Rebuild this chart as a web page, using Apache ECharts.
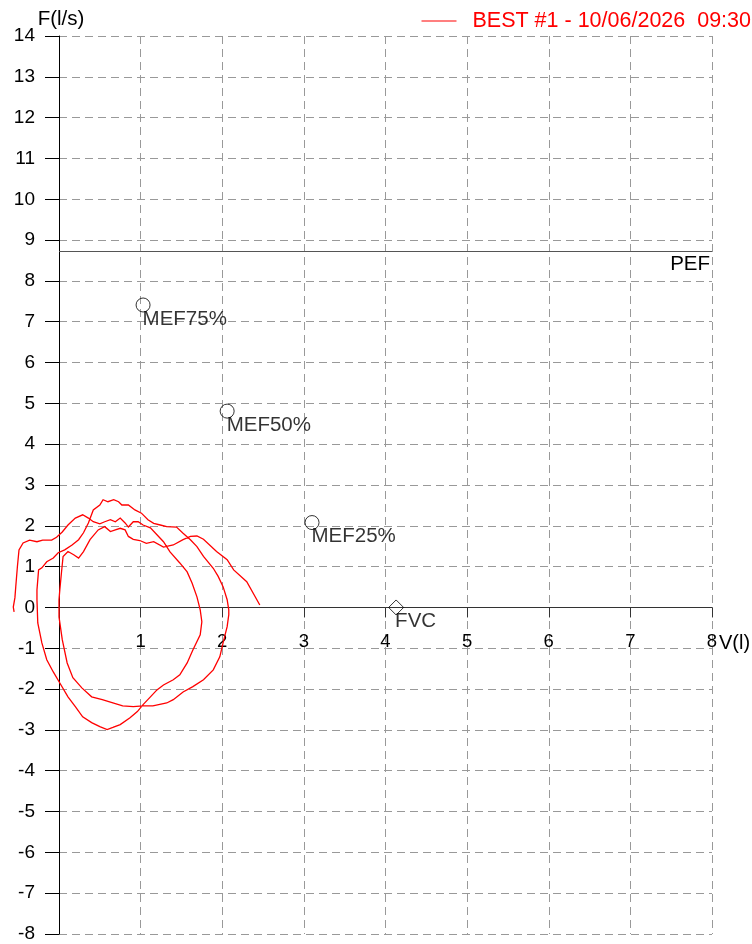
<!DOCTYPE html>
<html>
<head>
<meta charset="utf-8">
<script src="https://cdn.jsdelivr.net/npm/echarts@6.0.0/dist/echarts.min.js"></script>
<style>
html,body{margin:0;padding:0;background:#fff;}
#chart{width:752px;height:944px;}
</style>
</head>
<body>
<div id="chart"></div>
<script>
// ---- data ----
const seriesName = 'BEST #1 - 10/06/2026  09:30';

const curveVolume = [
 -0.55,-0.56,-0.54,-0.53,-0.51,-0.49,-0.44,-0.36,-0.27,-0.20,-0.09,-0.03,0.04,0.11,0.20,0.29,0.36,0.42,0.50,0.56,
 0.63,0.69,0.75,0.81,0.85,0.91,0.97,1.03,1.12,1.20,1.28,1.36,1.48,1.57,1.63,1.69,1.73,1.75,1.73,1.64,
 1.57,1.48,1.40,1.28,1.20,1.12,1.03,0.96,0.87,0.75,0.66,0.59,0.50,0.40,0.29,0.20,0.11,0.01,-0.07,-0.15,
 -0.21,-0.26,-0.27,-0.27,-0.25,-0.21,-0.15,-0.07,-0.01,0.07,0.16,0.24,0.30,0.36,0.42,0.50,0.54,0.60,0.67,0.73,
 0.77,0.85,0.93,1.01,1.09,1.16,1.24,1.32,1.44,1.52,1.61,1.69,1.77,1.89,1.95,2.01,2.06,2.08,2.08,2.06,
 2.01,1.97,1.89,1.77,1.64,1.52,1.40,1.32,1.15,1.03,0.91,0.78,0.66,0.53,0.40,0.28,0.17,0.10,0.04,0.00,
 0.00,0.01,0.03,0.05,0.11,0.18,0.24,0.30,0.38,0.48,0.56,0.63,0.69,0.75,0.81,0.85,0.91,0.99,1.07,1.16,
 1.28,1.40,1.52,1.61,1.69,1.77,1.93,2.06,2.14,2.30,2.46
];
const curveFlow = [
 -0.11,0.01,0.24,0.50,0.99,1.41,1.58,1.65,1.61,1.65,1.65,1.72,1.85,2.02,2.19,2.27,2.19,2.10,2.05,2.10,
 2.15,2.10,2.19,2.07,1.97,2.10,2.10,2.02,1.95,1.78,1.61,1.36,1.09,0.87,0.60,0.26,-0.06,-0.35,-0.67,-1.04,
 -1.36,-1.65,-1.77,-1.90,-2.02,-2.19,-2.38,-2.55,-2.70,-2.87,-2.94,-2.99,-2.92,-2.82,-2.68,-2.43,-2.19,-1.85,-1.58,-1.28,
 -0.87,-0.38,0.19,0.43,0.92,0.97,1.12,1.21,1.34,1.41,1.53,1.66,1.83,2.07,2.39,2.51,2.64,2.59,2.64,2.59,
 2.51,2.51,2.39,2.31,2.15,2.06,2.02,1.98,1.97,1.82,1.66,1.49,1.25,0.96,0.76,0.51,0.19,-0.06,-0.18,-0.47,
 -0.87,-1.21,-1.53,-1.77,-1.94,-2.07,-2.26,-2.34,-2.41,-2.41,-2.43,-2.41,-2.34,-2.26,-2.19,-1.97,-1.72,-1.36,-0.79,-0.23,
 0.19,0.43,0.85,1.25,1.37,1.29,1.21,1.37,1.66,1.90,1.98,1.86,1.90,1.94,1.90,1.74,1.67,1.64,1.57,1.61,
 1.48,1.53,1.66,1.74,1.75,1.67,1.37,1.17,0.92,0.63,0.06
];

const markerNames  = ['MEF75%', 'MEF50%', 'MEF25%', 'FVC'];
const markerVolume = [1.03, 2.06, 3.10, 4.13];
const markerFlow   = [7.41, 4.81, 2.08, 0];

const pefFlow = 8.72;

const volumeMin = 0, volumeMax = 8;
const flowMin = -8, flowMax = 14;

// ---- build options ----
const FONT = '"Liberation Sans", Arial, Helvetica, sans-serif';
const W = 752, H = 944;
const GRID = {left: 59, right: 40, top: 36, bottom: 10};
const plotH = H - GRID.top - GRID.bottom;
// move the whole x axis (line, ticks, labels) up to flow = 0
const xAxisOffset = -plotH * (0 - flowMin) / (flowMax - flowMin);

const curveData = curveVolume.map((v, i) => [v, curveFlow[i]]);
const markerData = markerNames.map((n, i) => ({
  name: n,
  value: [markerVolume[i], markerFlow[i]],
  symbol: n === 'FVC' ? 'diamond' : 'circle',
  symbolSize: n === 'FVC' ? 15 : 14
}));

const chart = echarts.init(document.getElementById('chart'), null, {renderer: 'canvas'});
chart.setOption({
  animation: false,
  backgroundColor: '#fff',
  textStyle: {fontFamily: FONT},
  grid: Object.assign({containLabel: false, outerBoundsMode: 'none'}, GRID),
  legend: {
    data: [seriesName],
    right: 1,
    top: 5,
    padding: [5, 0, 5, 5],
    icon: 'rect',
    itemWidth: 35,
    itemHeight: 1.2,
    itemGap: 0,
    textStyle: {color: '#ff0000', fontSize: 21.5, fontFamily: FONT, padding: [0, 0, 0, 11]}
  },
  xAxis: {
    type: 'value',
    min: volumeMin, max: volumeMax, interval: 1,
    offset: xAxisOffset,
    name: 'V(l)',
    nameLocation: 'end',
    nameGap: 7,
    nameMoveOverlap: false,
    nameTextStyle: {color: '#000', fontSize: 20, fontFamily: FONT, verticalAlign: 'top', padding: [26, 0, 0, 0]},
    axisLine: {show: true, onZero: false, lineStyle: {color: '#333', width: 1}},
    axisTick: {show: true, length: 10, lineStyle: {color: '#333', width: 1}},
    axisLabel: {color: '#000', fontSize: 18.5, fontFamily: FONT, margin: 25,
      formatter: v => (v === 0 ? '' : String(v))},
    splitLine: {show: true, lineStyle: {color: '#999', width: 1, type: [8, 5]}}
  },
  yAxis: {
    type: 'value',
    min: flowMin, max: flowMax, interval: 1,
    name: 'F(l/s)',
    nameLocation: 'end',
    nameGap: 6,
    nameMoveOverlap: false,
    nameTextStyle: {color: '#000', fontSize: 20.5, fontFamily: FONT, align: 'center', padding: [0, 0, 0, 4]},
    axisLine: {show: true, onZero: false, lineStyle: {color: '#000', width: 1}},
    axisTick: {show: true, length: 14, lineStyle: {color: '#000', width: 1}},
    axisLabel: {color: '#000', fontSize: 19, fontFamily: FONT, margin: 24},
    splitLine: {show: true, lineStyle: {color: '#999', width: 1, type: [8, 5]}}
  },
  series: [
    {
      name: seriesName,
      type: 'custom',
      data: curveData,
      clip: false,
      z: 3,
      itemStyle: {color: '#ff0000'},
      renderItem: function (params, api) {
        if (params.dataIndex !== 0) return null;
        const pts = curveData.map(p => api.coord(p));
        return {
          type: 'polyline',
          shape: {points: pts},
          style: {stroke: '#ff0000', lineWidth: 1.3, fill: null}
        };
      },
      silent: true
    },
    {
      name: 'PEF',
      type: 'line',
      data: [],
      markLine: {
        silent: true,
        symbol: 'none',
        animation: false,
        lineStyle: {color: '#555', width: 1.2, type: 'solid'},
        label: {show: true, position: 'insideEndBottom', formatter: 'PEF', color: '#000',
          fontSize: 20.5, fontFamily: FONT, distance: 2},
        data: [{yAxis: pefFlow}]
      }
    },
    {
      name: 'markers',
      type: 'scatter',
      data: markerData,
      clip: false,
      z: 4,
      itemStyle: {color: 'rgba(0,0,0,0)', borderColor: '#000', borderWidth: 1},
      label: {
        show: true,
        formatter: p => p.name,
        position: [7, 11],
        align: 'left',
        verticalAlign: 'top',
        color: '#000',
        fontSize: 20.5,
        fontFamily: FONT
      },
      emphasis: {disabled: true}
    }
  ]
});
</script>
</body>
</html>
